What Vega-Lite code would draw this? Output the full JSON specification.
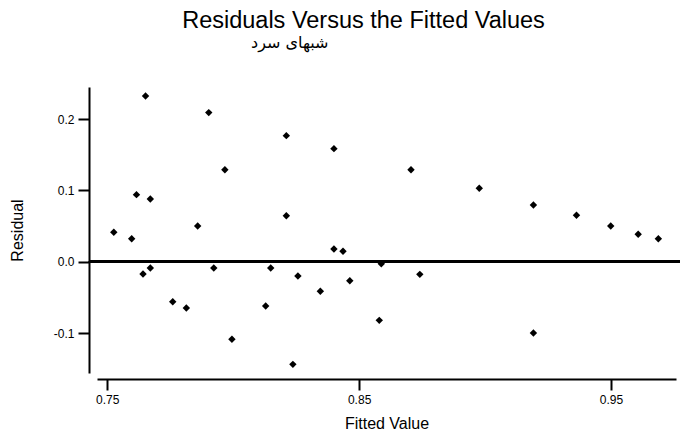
{
  "$schema": "https://vega.github.io/schema/vega-lite/v6.json",
  "autosize": {"type": "none"},
  "padding": {"left": 97, "top": 87, "right": 4, "bottom": 59},
  "width": 579,
  "height": 286,
  "background": "white",
  "title": {
    "text": "Residuals Versus the Fitted Values",
    "subtitle": "شبهای سرد\u00a0\u00a0\u00a0\u00a0\u00a0\u00a0\u00a0\u00a0\u00a0\u00a0\u00a0\u00a0\u00a0\u00a0\u00a0\u00a0\u00a0\u00a0\u00a0\u00a0\u00a0\u00a0\u00a0\u00a0\u00a0\u00a0\u00a0\u00a0\u00a0\u200b",
    "anchor": "middle",
    "frame": "group",
    "dx": -23,
    "offset": 36,
    "font": "Liberation Sans",
    "fontSize": 23.5,
    "fontWeight": "normal",
    "color": "black",
    "subtitleFont": "DejaVu Sans",
    "subtitleFontSize": 16,
    "subtitleColor": "black",
    "subtitlePadding": 3
  },
  "config": {
    "view": {"stroke": null},
    "axis": {
      "grid": false,
      "domainColor": "black",
      "domainWidth": 2,
      "tickColor": "black",
      "tickWidth": 2,
      "tickSize": 11,
      "labelColor": "black",
      "labelFont": "Liberation Sans",
      "labelFontSize": 12,
      "titleColor": "black",
      "titleFont": "Liberation Sans",
      "titleFontSize": 16,
      "titleFontWeight": "normal"
    }
  },
  "data": {
    "values": [
      {"fitted": 0.7526, "residual": 0.0412},
      {"fitted": 0.7597, "residual": 0.0323},
      {"fitted": 0.7652, "residual": 0.2324},
      {"fitted": 0.7616, "residual": 0.0940},
      {"fitted": 0.7671, "residual": 0.0879},
      {"fitted": 0.7642, "residual": -0.0173},
      {"fitted": 0.7671, "residual": -0.0088},
      {"fitted": 0.7760, "residual": -0.0561},
      {"fitted": 0.7814, "residual": -0.0649},
      {"fitted": 0.7859, "residual": 0.0501},
      {"fitted": 0.7903, "residual": 0.2090},
      {"fitted": 0.7923, "residual": -0.0088},
      {"fitted": 0.7967, "residual": 0.1290},
      {"fitted": 0.7995, "residual": -0.1088},
      {"fitted": 0.8129, "residual": -0.0621},
      {"fitted": 0.8149, "residual": -0.0088},
      {"fitted": 0.8211, "residual": 0.1767},
      {"fitted": 0.8211, "residual": 0.0645},
      {"fitted": 0.8237, "residual": -0.1439},
      {"fitted": 0.8257, "residual": -0.0201},
      {"fitted": 0.8346, "residual": -0.0415},
      {"fitted": 0.8400, "residual": 0.1585},
      {"fitted": 0.8400, "residual": 0.0178},
      {"fitted": 0.8436, "residual": 0.0146},
      {"fitted": 0.8463, "residual": -0.0266},
      {"fitted": 0.8588, "residual": -0.0028},
      {"fitted": 0.8580, "residual": -0.0822},
      {"fitted": 0.8706, "residual": 0.1290},
      {"fitted": 0.8741, "residual": -0.0177},
      {"fitted": 0.8977, "residual": 0.1029},
      {"fitted": 0.9192, "residual": 0.0795},
      {"fitted": 0.9192, "residual": -0.1000},
      {"fitted": 0.9363, "residual": 0.0651},
      {"fitted": 0.9499, "residual": 0.0501},
      {"fitted": 0.9608, "residual": 0.0384},
      {"fitted": 0.9688, "residual": 0.0323}
    ]
  },
  "layer": [
    {
      "mark": {"type": "rule", "color": "black", "strokeWidth": 2},
      "encoding": {
        "y": {"datum": 0, "type": "quantitative"},
        "x": {"datum": 0.74275, "type": "quantitative"},
        "x2": {"datum": 0.97739}
      }
    },
    {
      "mark": {"type": "point", "shape": "diamond", "filled": true, "color": "black", "opacity": 1, "size": 55},
      "encoding": {
        "x": {
          "field": "fitted",
          "type": "quantitative",
          "scale": {"domain": [0.74593, 0.97581], "nice": false, "zero": false},
          "axis": {
            "title": "Fitted Value",
            "values": [0.75, 0.85, 0.95],
            "format": ".2f",
            "offset": 6,
            "labelPadding": 4,
            "titlePadding": 10
          }
        },
        "y": {
          "field": "residual",
          "type": "quantitative",
          "scale": {"domain": [-0.156, 0.2449], "nice": false, "zero": false},
          "axis": {
            "title": "Residual",
            "values": [-0.1, 0, 0.1, 0.2],
            "labelExpr": "datum.value < 0 ? '-' + format(-datum.value, '.1f') : format(datum.value, '.1f')",
            "offset": 8,
            "labelPadding": 4,
            "titlePadding": 28
          }
        }
      }
    }
  ]
}
